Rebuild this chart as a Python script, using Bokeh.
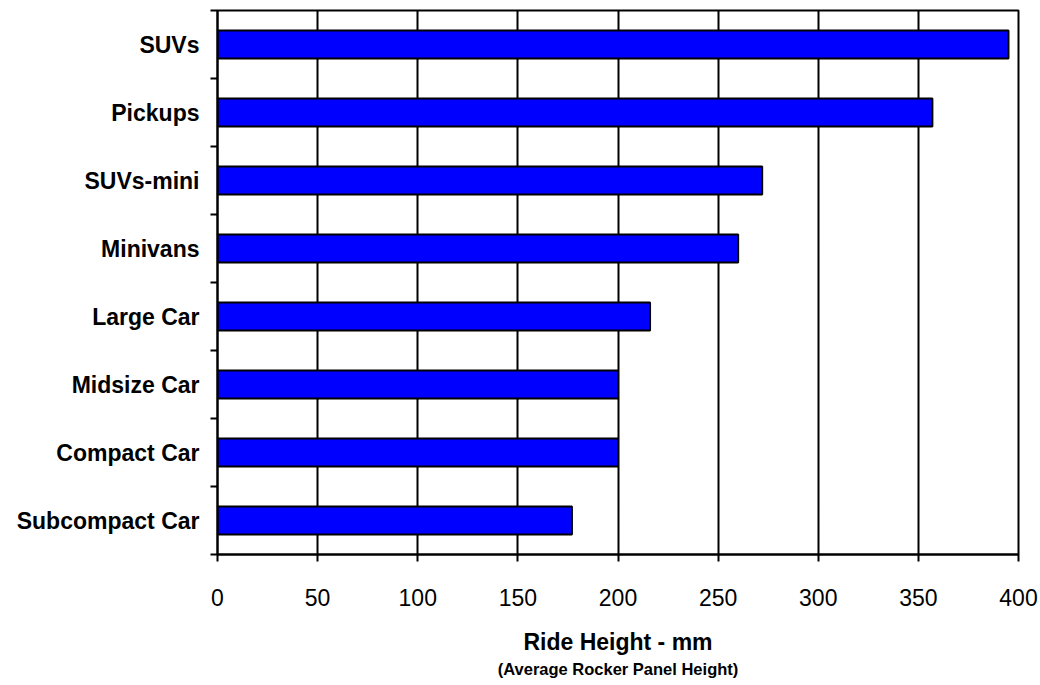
from bokeh.plotting import figure
from bokeh.models import Range1d, FixedTicker, Title, ColumnDataSource
from bokeh.embed import file_html
from bokeh.resources import INLINE

categories = ["Subcompact Car", "Compact Car", "Midsize Car", "Large Car",
              "Minivans", "SUVs-mini", "Pickups", "SUVs"]
ride_height = [177, 200, 200, 216, 260, 272, 357, 395]
x_ticks = [0, 50, 100, 150, 200, 250, 300, 350, 400]
x_title = "Ride Height - mm"
x_subtitle = "(Average Rocker Panel Height)"

FONT = "Liberation Sans"

ypos = [i + 0.5 for i in range(len(categories))]
src = ColumnDataSource(dict(y=ypos, v=ride_height, name=categories))

p = figure(width=1040, height=685, output_backend="svg", toolbar_location=None,
           x_range=Range1d(0, 400), y_range=Range1d(0, len(categories)),
           min_border_left=217, min_border_right=22, min_border_top=10,
           min_border_bottom=131)
p.outline_line_color = "black"
p.outline_line_width = 2
p.background_fill_color = "white"
p.border_fill_color = "white"

p.hbar(y="y", right="v", left=0, height=0.41, source=src,
       fill_color="#0000FF", line_color="black", line_width=2)

# x axis
xa = p.xaxis[0]
xa.ticker = FixedTicker(ticks=x_ticks)
xa.minor_tick_line_color = None
xa.major_tick_in = 0
xa.major_tick_out = 7
xa.major_tick_line_width = 2
xa.axis_line_width = 2
xa.axis_line_color = "black"
xa.major_label_text_font = FONT
xa.major_label_text_font_size = "23px"
xa.major_label_text_color = "black"
xa.major_label_standoff = 27
xa.axis_label = x_title
xa.axis_label_text_font = FONT
xa.axis_label_text_font_size = "23px"
xa.axis_label_text_font_style = "bold"
xa.axis_label_text_color = "black"
xa.axis_label_standoff = 20

# y axis
ya = p.yaxis[0]
ya.ticker = FixedTicker(ticks=ypos, minor_ticks=list(range(len(categories) + 1)))
ya.major_label_overrides = {y: n for y, n in zip(ypos, categories)}
ya.major_tick_in = 0
ya.major_tick_out = 0
ya.major_tick_line_color = None
ya.minor_tick_in = 0
ya.minor_tick_out = 7
ya.minor_tick_line_width = 2
ya.minor_tick_line_color = "black"
ya.axis_line_width = 2
ya.axis_line_color = "black"
ya.major_label_text_font = FONT
ya.major_label_text_font_size = "23px"
ya.major_label_text_font_style = "bold"
ya.major_label_text_color = "black"
ya.major_label_standoff = 11

# grids
p.ygrid.grid_line_color = None
p.xgrid.ticker = FixedTicker(ticks=x_ticks)
p.xgrid.grid_line_color = "black"
p.xgrid.grid_line_width = 2

p.add_layout(Title(text=x_subtitle, align="center", text_font=FONT,
                   text_font_size="16.5px", text_font_style="bold",
                   text_color="black", standoff=0), "below")

open("out.html", "w").write(file_html(p, INLINE))
